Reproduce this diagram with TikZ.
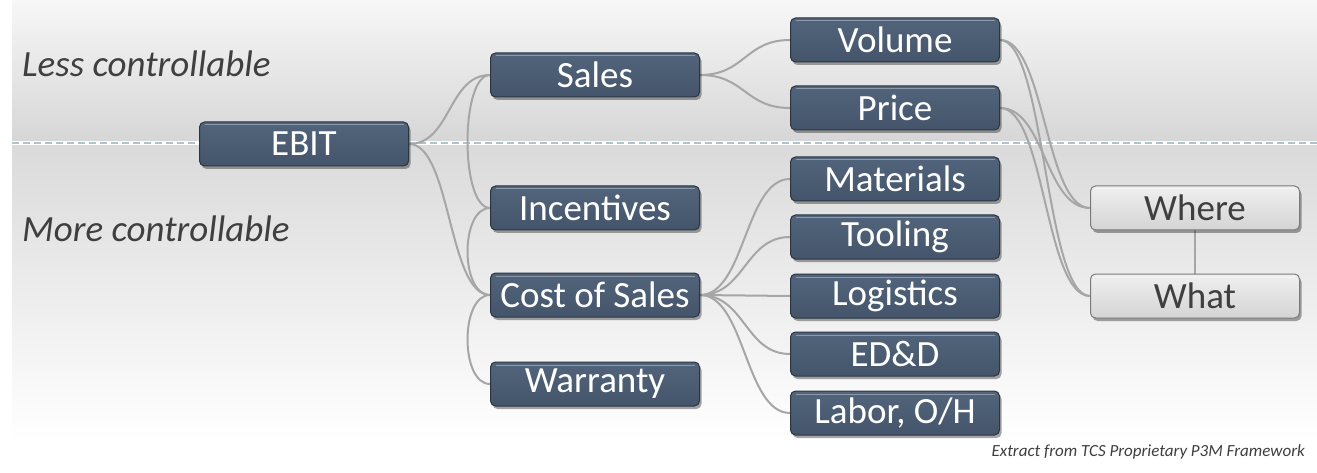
\documentclass[tikz,border=0pt]{standalone}
\usepackage{fontspec}
\setmainfont{Carlito}
\usetikzlibrary{shadows,calc}
\definecolor{boxtop}{HTML}{52647B}
\definecolor{boxbot}{HTML}{44556B}
\definecolor{boxedge}{HTML}{2A3543}
\definecolor{linkc}{HTML}{A6A6A6}
\definecolor{greytop}{HTML}{F0F0F0}
\definecolor{greybot}{HTML}{D4D4D4}
\definecolor{greyedge}{HTML}{7A7A7A}
\definecolor{txtgrey}{HTML}{3F3F3F}
\definecolor{bgtop}{HTML}{F7F7F7}
\definecolor{bgmid}{HTML}{D6D6D6}
\definecolor{bglow}{HTML}{DADADA}
\definecolor{dashc}{HTML}{B0C2CC}
\pgfdeclarelayer{bglayer}
\pgfdeclarelayer{linklayer}
\pgfsetlayers{bglayer,linklayer,main}
\tikzset{
  box/.style={rectangle, rounded corners=5pt, minimum width=209pt, minimum height=44pt,
    inner sep=0pt, draw=boxedge, line width=1pt, top color=boxtop, bottom color=boxbot,
    text=white, font=\fontsize{37}{40}\selectfont,
    drop shadow={shadow xshift=2pt, shadow yshift=-3pt, opacity=0.35, fill=black},
    path picture={\draw[white,opacity=0.35,line width=1pt]
      ([xshift=5pt,yshift=-3pt]path picture bounding box.north west) --
      ([xshift=-5pt,yshift=-3pt]path picture bounding box.north east);}},
  greybox/.style={box, draw=greyedge, top color=greytop, bottom color=greybot, text=txtgrey},
  link/.style={draw=linkc, line width=2pt},
  sidelabel/.style={anchor=west, text=txtgrey, font=\fontsize{37}{40}\selectfont\itshape, inner sep=0pt}
}
\begin{document}
\begin{tikzpicture}[x=1pt,y=-1pt]
\useasboundingbox (0,0) rectangle (1317,473);
% background
\begin{pgfonlayer}{bglayer}
\fill[white] (0,0) rectangle (1317,473);
\shade[top color=bgtop, bottom color=bgmid] (12,0) rectangle (1317,143);
\shade[top color=bglow, bottom color=white] (12,143) rectangle (1317,440);
\fill[white] (12,440) rectangle (1317,473);
\draw[white, line width=4pt] (12,143) -- (1317,143);
\draw[dashc, line width=1.8pt, dash pattern=on 7pt off 4pt] (12,143) -- (1317,143);
\end{pgfonlayer}

% side labels
\node[sidelabel] (less) at (22,64) {Less controllable};
\node[sidelabel] (more) at (22,229) {More controllable};

% nodes
\node[box] (ebit) at (304,144) {EBIT};
\node[box] (sales) at (595,75) {Sales};
\node[box] (inc) at (595,208) {Incentives};
\node[box] (cos) at (595,295) {Cost of Sales};
\node[box] (war) at (595,384) {Warranty};
\node[box] (vol) at (895,40) {Volume};
\node[box] (price) at (895,108) {Price};
\node[box] (mat) at (895,179) {Materials};
\node[box] (tool) at (895,237) {Tooling};
\node[box] (logi) at (895,296) {Logistics};
\node[box] (edd) at (895,354) {ED\&D};
\node[box] (lab) at (895,413) {Labor, O/H};
\node[greybox] (where) at (1195,208) {Where};
\node[greybox] (what) at (1195,296) {What};

% caption
\node[anchor=east, text=txtgrey, font=\fontsize{17}{20}\selectfont\itshape, inner sep=0pt] (cap) at (1305,452) {Extract from TCS Proprietary P3M Framework};

% connectors
\begin{pgfonlayer}{linklayer}
\path[link] (ebit.east) .. controls +(42,0) and +(-42,0) .. (sales.west);
\path[link] (ebit.east) .. controls +(42,0) and +(-42,0) .. (cos.west);
\path[link] (sales.west) .. controls +(-30,0) and +(-30,0) .. (inc.west);
\path[link] (inc.west) .. controls +(-30,0) and +(-30,0) .. (cos.west);
\path[link] (cos.west) .. controls +(-30,0) and +(-30,0) .. (war.west);
\path[link] (sales.east) .. controls +(45,0) and +(-45,0) .. (vol.west);
\path[link] (sales.east) .. controls +(45,0) and +(-45,0) .. (price.west);
\path[link] (cos.east) .. controls +(45,0) and +(-45,0) .. (mat.west);
\path[link] (cos.east) .. controls +(45,0) and +(-45,0) .. (tool.west);
\path[link] (cos.east) -- (logi.west);
\path[link] (cos.east) .. controls +(45,0) and +(-45,0) .. (edd.west);
\path[link] (cos.east) .. controls +(45,0) and +(-45,0) .. (lab.west);
\path[link] (vol.east) .. controls +(45,0) and +(-45,0) .. (where.west);
\path[link] (vol.east) .. controls +(45,0) and +(-45,0) .. (what.west);
\path[link] (price.east) .. controls +(45,0) and +(-45,0) .. (where.west);
\path[link] (price.east) .. controls +(45,0) and +(-45,0) .. (what.west);
\path[link] (where.south) -- (what.north);
\end{pgfonlayer}
\end{tikzpicture}
\end{document}
